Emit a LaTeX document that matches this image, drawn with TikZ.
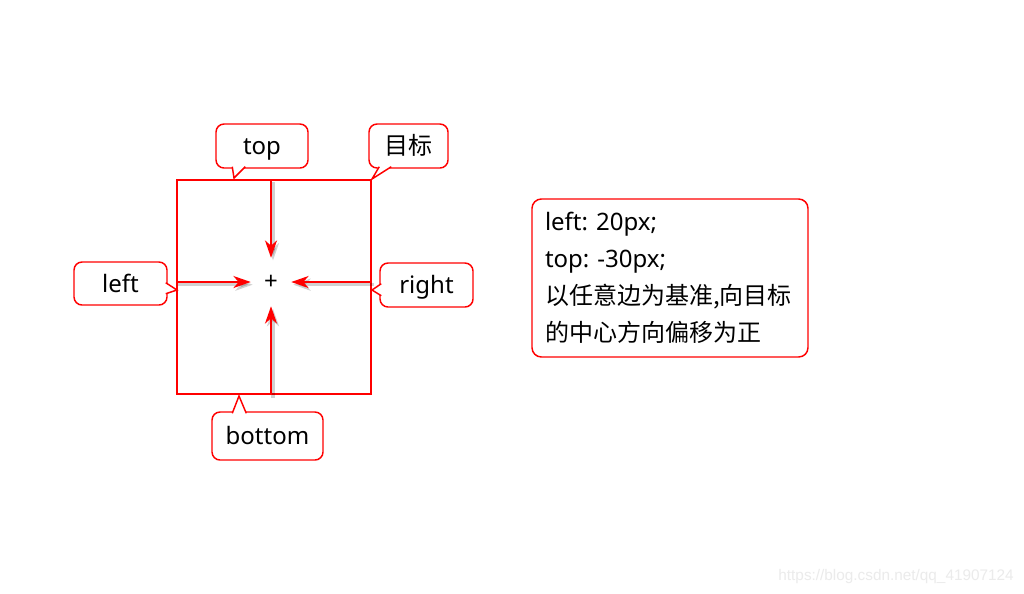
\documentclass[tikz,border=0pt]{standalone}
\usepackage{fontspec}
\setmainfont{Noto Sans}
\newfontfamily\cjk{Noto Sans CJK SC}
\newfontfamily\markfont{Liberation Sans}
\usetikzlibrary{calc,arrows.meta}
\frenchspacing

\begin{document}
\begin{tikzpicture}[x=0.75pt,y=-0.75pt]
  \definecolor{kRed}{rgb}{1,0,0}
  \definecolor{kMark}{rgb}{0.92,0.92,0.92}
  \tikzset{
    tag/.style={draw=kRed,line width=1.1pt,fill=white,rounded corners=6pt,
      inner sep=0pt,text height=18pt,text depth=5pt,
      font=\fontsize{18}{22}\selectfont},
    beak/.style={draw=kRed,line width=1.1pt,fill=white,line join=miter},
    push/.style={draw=kRed,line width=1.5pt,
      -{Stealth[length=13pt,width=9pt,inset=4pt]},
      preaction={draw=black,opacity=0.18,line width=2.5pt,
        transform canvas={shift={(1.5pt,-2pt)}}}}
  }
  \useasboundingbox[fill=white] (0,0) rectangle (1024,593);

  % target box and its centre
  \node[draw=kRed,line width=1.5pt,minimum width=145.5pt,minimum height=160.5pt,
    inner sep=0pt] (target) at (274,287) {};
  \node[font=\fontsize{18}{22}\selectfont,inner sep=0pt,
    minimum width=30pt,minimum height=36pt] (centre) at (271,282) {+};

  % arrows towards the centre
  \draw[push] (centre |- target.north) -- (centre);
  \draw[push] (centre -| target.west) -- (centre);
  \draw[push] (centre -| target.east) -- (centre);
  \draw[push] (centre |- target.south) -- (centre);

  % callouts
  \node[tag,minimum width=69pt,minimum height=33pt] (top) at (262,146) {top};
  \node[tag,minimum width=59.25pt,minimum height=33pt] (goal) at (408.5,146) {\cjk 目标};
  \node[tag,minimum width=69.75pt,minimum height=32.25pt] (left) at (120.5,283.5) {left};
  \node[tag,minimum width=69.75pt,minimum height=33pt] (right) at (426.5,285) {right};
  \node[tag,minimum width=83.25pt,minimum height=36pt] (bottom) at (267.5,436) {bottom};

  \coordinate (topTip) at (234,178);
  \coordinate (leftTip) at (177,290);
  \coordinate (rightTip) at (372,290);
  \coordinate (bottomTip) at (239,396);

  \draw[beak] ($(top.south west)+(17,-2)$) -- (topTip) -- ($(top.south west)+(30,-2)$);
  \draw[beak] ($(goal.south west)+(11,-2)$) -- (target.north east) -- ($(goal.south west)+(23,-2)$);
  \draw[beak] ($(left.south east)+(-2,-23)$) -- (leftTip) -- ($(left.south east)+(-2,-12)$);
  \draw[beak] ($(right.south west)+(2,-24)$) -- (rightTip) -- ($(right.south west)+(2,-12)$);
  \draw[beak] ($(bottom.north west)+(21,2)$) -- (bottomTip) -- ($(bottom.north west)+(35,2)$);

  % note
  \node[draw=kRed,line width=1.1pt,rounded corners=7pt,
    minimum width=207pt,minimum height=118.5pt,inner xsep=9.75pt,
    text width=187.5pt,align=left,
    font=\fontsize{18}{27.75}\selectfont] (note) at (670,278)
    {left: 20px;\\top: -30px;\\{\cjk 以任意边为基准,向目标}\\{\cjk 的中心方向偏移为正}};

  \node[anchor=south east,text=kMark,font=\markfont\fontsize{11.5}{14}\selectfont,
    inner sep=0pt] (mark) at (1014,584) {https://blog.csdn.net/qq\_41907124};
\end{tikzpicture}
\end{document}
